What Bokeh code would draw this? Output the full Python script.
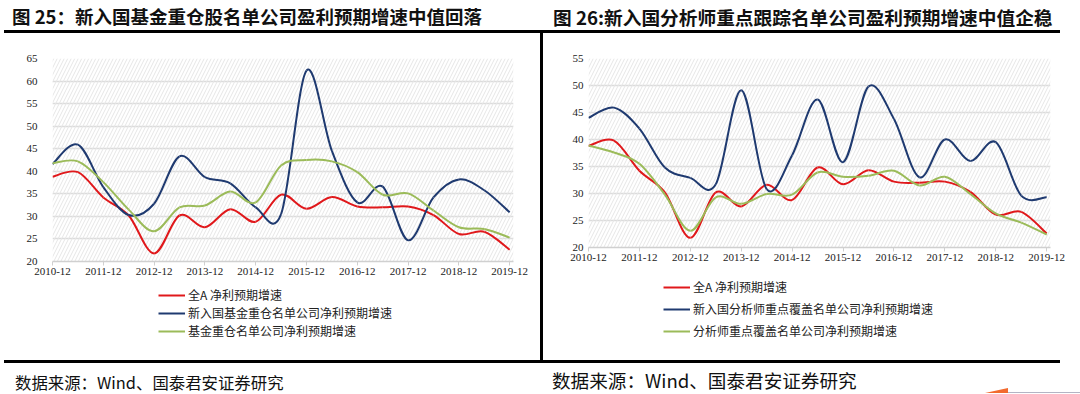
from bokeh.plotting import figure
from bokeh.models import (Range1d, FixedTicker, BoxAnnotation, Legend,
                          LegendItem, ColumnDataSource, Div)
from bokeh.layouts import row, column
from bokeh.embed import file_html
from bokeh.resources import INLINE

# ---------------- data (half-yearly observations) ----------------
periods = ["2010-12", "2011-06", "2011-12", "2012-06", "2012-12", "2013-06",
           "2013-12", "2014-06", "2014-12", "2015-06", "2015-12", "2016-06",
           "2016-12", "2017-06", "2017-12", "2018-06", "2018-12", "2019-06",
           "2019-12"]
tick_labels = ["2010-12", "2011-12", "2012-12", "2013-12", "2014-12",
               "2015-12", "2016-12", "2017-12", "2018-12", "2019-12"]

all_a = [38.8, 39.8, 34.2, 30.2, 21.8, 30.2, 27.6, 31.6, 28.8, 34.8,
         31.7, 34.3, 32.2, 32.0, 32.2, 30.3, 26.1, 26.6, 22.6]
fund_new = [41.6, 45.9, 36.5, 30.3, 32.8, 43.3, 38.7, 37.3, 32.0, 30.5,
            62.3, 44.5, 33.1, 36.6, 24.7, 34.2, 38.2, 35.8, 30.9]
fund_heavy = [41.8, 42.2, 37.6, 31.5, 26.7, 32.0, 32.4, 35.5, 33.1, 41.3,
              42.5, 42.2, 39.8, 34.8, 35.1, 31.3, 27.6, 27.2, 25.3]
analyst_new = [44.0, 45.9, 42.0, 34.8, 32.9, 31.7, 49.1, 30.8, 37.1, 47.4,
               35.8, 49.8, 43.8, 33.0, 40.0, 36.0, 39.5, 29.6, 29.3]
analyst_cover = [38.9, 37.6, 35.5, 29.8, 23.1, 29.3, 28.1, 29.9, 29.8, 33.9,
                 33.1, 33.3, 34.2, 31.5, 33.1, 29.9, 26.3, 24.6, 22.4]

title_left = "图 25：新入国基金重仓股名单公司盈利预期增速中值回落"
title_right = "图 26:新入国分析师重点跟踪名单公司盈利预期增速中值企稳"
legend_left = ["全A 净利预期增速", "新入国基金重仓名单公司净利预期增速",
               "基金重仓名单公司净利预期增速"]
legend_right = ["全A 净利预期增速", "新入国分析师重点覆盖名单公司净利预期增速",
                "分析师重点覆盖名单公司净利预期增速"]
source_text = "数据来源：Wind、国泰君安证券研究"

RED = "#e0181b"
BLUE = "#1f3a70"
GREEN = "#9bbb59"
CJK = "Noto Sans CJK SC"
SERIF = "Liberation Serif"


def smooth_source(values):
    """Catmull-Rom style Bezier segments through the data points."""
    xs = list(range(len(values)))
    pts = list(zip(xs, values))
    n = len(pts)
    d = dict(x0=[], y0=[], x1=[], y1=[], cx0=[], cy0=[], cx1=[], cy1=[])
    for i in range(n - 1):
        p0 = pts[i - 1] if i > 0 else pts[i]
        p1 = pts[i]
        p2 = pts[i + 1]
        p3 = pts[i + 2] if i + 2 < n else pts[i + 1]
        d["x0"].append(p1[0]); d["y0"].append(p1[1])
        d["x1"].append(p2[0]); d["y1"].append(p2[1])
        d["cx0"].append(p1[0] + (p2[0] - p0[0]) / 6.0)
        d["cy0"].append(p1[1] + (p2[1] - p0[1]) / 6.0)
        d["cx1"].append(p2[0] - (p3[0] - p1[0]) / 6.0)
        d["cy1"].append(p2[1] - (p3[1] - p1[1]) / 6.0)
    return ColumnDataSource(d)


def make_chart(series, ymax, width, bl, br, fh, ystand):
    height = 24 + fh + 22
    p = figure(width=width, height=height, x_range=Range1d(0, 18.15),
               y_range=Range1d(20, ymax), output_backend="svg",
               toolbar_location=None, min_border_left=bl, min_border_right=br,
               min_border_top=24, min_border_bottom=22,
               outline_line_color=None, background_fill_color="white",
               border_fill_color="white")
    p.add_layout(BoxAnnotation(fill_alpha=0, line_color=None,
                               hatch_pattern="/", hatch_color="#e6e6e6",
                               hatch_scale=7, hatch_weight=1, level="underlay"))
    yt = list(range(20, ymax + 1, 5))
    p.yaxis.ticker = FixedTicker(ticks=yt)
    p.ygrid.ticker = FixedTicker(ticks=yt)
    p.xaxis.ticker = FixedTicker(ticks=[periods.index(t) for t in tick_labels])
    p.xaxis.major_label_overrides = {periods.index(t): t for t in tick_labels}
    p.xgrid.visible = False
    p.ygrid.grid_line_color = "#dcdcdc"
    p.ygrid.grid_line_width = 1.5
    p.yaxis.axis_line_color = None
    p.yaxis.major_tick_line_color = None
    p.yaxis.minor_tick_line_color = None
    p.yaxis.major_tick_out = 0
    p.yaxis.major_tick_in = 0
    p.yaxis.major_label_standoff = ystand
    p.xaxis.axis_line_color = "#d0d0d0"
    p.xaxis.axis_line_width = 1.5
    p.xaxis.major_tick_line_color = "#d0d0d0"
    p.xaxis.major_tick_out = 4
    p.xaxis.major_tick_in = 0
    p.xaxis.minor_tick_line_color = None
    p.xaxis.major_label_standoff = 2
    for ax in (p.xaxis, p.yaxis):
        ax.major_label_text_font = SERIF
        ax.major_label_text_font_size = "11px"
        ax.major_label_text_color = "#222222"
    for vals, color in series:
        p.bezier(x0="x0", y0="y0", x1="x1", y1="y1", cx0="cx0", cy0="cy0",
                 cx1="cx1", cy1="cy1", source=smooth_source(vals),
                 line_color=color, line_width=2)
    return p


def make_legend(colors, labels, width, bl, br, height, loc, spacing):
    p = figure(width=width, height=height, x_range=Range1d(0, 1),
               y_range=Range1d(0, 1), output_backend="svg",
               toolbar_location=None, min_border_left=bl, min_border_right=br,
               min_border_top=0, min_border_bottom=0,
               x_axis_location=None, y_axis_location=None,
               outline_line_color=None, background_fill_color="white",
               border_fill_color="white")
    p.xgrid.visible = False
    p.ygrid.visible = False
    items = []
    nan = float("nan")
    for color, lab in zip(colors, labels):
        # legend-only renderer: one undefined point, nothing drawn in the frame
        r = p.line(x=[nan], y=[nan], line_color=color, line_width=2)
        items.append(LegendItem(label=lab, renderers=[r]))
    leg = Legend(items=items, location=loc, orientation="vertical",
                 glyph_width=27, glyph_height=12, label_height=12,
                 label_text_font=CJK, label_text_font_size="12px",
                 label_text_color="#222222", spacing=spacing, padding=0,
                 margin=0, border_line_color=None, background_fill_alpha=0,
                 label_standoff=3)
    p.add_layout(leg)
    return p


def header(title, tx, size, line_left, line_w, vline):
    v = ('<div style="position:absolute;left:0px;top:30px;width:3px;'
         'height:4px;background:#000;"></div>') if vline else ""
    html = ('<div style="position:relative;width:540px;height:34px;">'
            f'<div style="position:absolute;left:{tx}px;top:3px;'
            f'font-family:\'{CJK}\';font-weight:bold;font-size:{size}px;'
            f'line-height:27px;color:#111;white-space:nowrap;">{title}</div>'
            f'<div style="position:absolute;left:{line_left}px;top:30px;'
            f'width:{line_w}px;height:3px;background:#000;"></div>{v}</div>')
    return Div(text=html, width=540, height=34, margin=0)


def footer(tx, size, cy, line_left, line_w, vline, deco):
    v = ('<div style="position:absolute;left:0px;top:0px;width:3px;'
         'height:4px;background:#000;"></div>') if vline else ""
    d = ""
    if deco:
        d = ('<div style="position:absolute;left:445px;top:29px;width:0;'
             'height:0;border-bottom:5px solid #f26a2e;'
             'border-left:23px solid transparent;"></div>'
             '<div style="position:absolute;left:468px;top:33px;width:72px;'
             'height:1px;background:#b4b4c4;"></div>')
    html = ('<div style="position:relative;width:540px;height:34px;">'
            f'<div style="position:absolute;left:{line_left}px;top:1px;'
            f'width:{line_w}px;height:3px;background:#000;"></div>{v}'
            f'<div style="position:absolute;left:{tx}px;top:{cy - size * 0.75:.1f}px;'
            f'font-family:\'{CJK}\';font-size:{size}px;line-height:{size * 1.5:.1f}px;'
            f'color:#111;white-space:nowrap;">{source_text}</div>{d}</div>')
    return Div(text=html, width=540, height=34, margin=0)


# left panel: frame page x 52..513, y 58..261 ; legend rows at 295/313/331
chart_l = make_chart([(all_a, RED), (fund_new, BLUE), (fund_heavy, GREEN)],
                     65, 540, 52, 27, 203, 15)
leg_l = make_legend([RED, BLUE, GREEN], legend_left, 540, 52, 27, 76,
                    (106, 20), 1)
# right panel: frame page x 588..1050, y 58..247 ; legend rows at 287/309/331
chart_r = make_chart([(all_a, RED), (analyst_new, BLUE), (analyst_cover, GREEN)],
                     55, 535, 45, 28, 189, 5)
leg_r = make_legend([RED, BLUE, GREEN], legend_right, 535, 45, 28, 90,
                    (75, 20), 5)

vline = Div(text='<div style="width:3px;height:325px;background:#000;"></div>',
            width=3, height=325, margin=0)

left_col = column(header(title_left, 12, 18.5, 4, 536, False), chart_l, leg_l,
                  footer(15, 16.4, 23, 4, 536, False, False), spacing=0)
right_col = column(header(title_right, 13, 18.7, 1, 519, True),
                   row(vline, column(chart_r, leg_r, spacing=0), spacing=0),
                   footer(12, 18.6, 21, 1, 519, True, True), spacing=0)

layout = row(left_col, right_col, spacing=0)
open("out.html", "w").write(file_html(layout, INLINE))
